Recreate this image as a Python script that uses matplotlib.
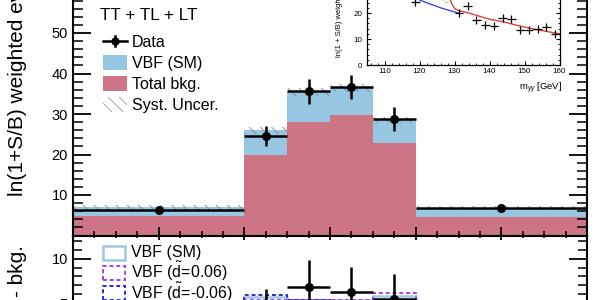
import numpy as np
import matplotlib
matplotlib.use('Agg')
import matplotlib.pyplot as plt
from matplotlib.patches import Rectangle
from matplotlib.lines import Line2D
from matplotlib.ticker import MultipleLocator

plt.rcParams['font.family'] = ['Liberation Sans', 'DejaVu Sans']
plt.rcParams['mathtext.fontset'] = 'custom'
plt.rcParams['mathtext.rm'] = 'Liberation Sans'
plt.rcParams['mathtext.it'] = 'Liberation Sans:italic'
plt.rcParams['mathtext.bf'] = 'Liberation Sans:bold'
plt.rcParams['hatch.linewidth'] = 0.6

# ---------------- data ----------------
bin_edges = [-3, -1, -0.5, 0, 0.5, 1, 3]
bkg = [4.8, 19.9, 28.0, 29.7, 22.8, 4.6]
vbf_sm = [2.2, 6.1, 7.4, 6.7, 5.7, 2.2]
syst = [0.6, 0.9, 0.9, 0.9, 0.8, 0.6]
data = [6.3, 24.6, 35.6, 36.7, 28.7, 6.9]
data_err = [0.4, 2.4, 3.1, 3.0, 3.0, 0.4]

diff_data = [1.5, 4.1, 6.85, 6.2, 5.5, 2.3]
diff_err = [0.6, 2.5, 2.95, 2.9, 2.8, 0.6]
diff_sm = [2.0, 5.65, 5.4, 5.3, 5.77, 2.1]
diff_dp = [1.6, 5.3, 5.4, 5.4, 6.15, 2.5]
diff_dm = [2.4, 5.96, 5.3, 5.2, 5.4, 1.7]

inset_mass = [106.25, 108.75, 111.25, 113.75, 116.25, 118.75, 121.25, 123.75,
              126.25, 128.75, 131.25, 133.75, 136.25, 138.75, 141.25, 143.75,
              146.25, 148.75, 151.25, 153.75, 156.25, 158.75]
inset_vals = [35, 33, 31, 29, 28, 24.2, 27, 31, 33, 28, 20.0, 22.7, 17.3, 15.4,
              15.0, 18.0, 17.6, 13.5, 13.5, 13.8, 14.7, 11.9]
inset_err = [1.6] * 22
bkg_fit_m = [105, 110, 115, 118, 120, 123, 126, 129, 131.5]
bkg_fit_v = [34, 30.5, 27.8, 26.2, 25.0, 23.5, 22.0, 20.8, 19.8]
tot_fit_m = [124, 125, 126.5, 127.8, 128.7, 129.2, 130, 131, 132.5, 134.4, 137,
             140, 144, 148, 152, 156, 160]
tot_fit_v = [40, 45, 40, 30, 25.5, 23.5, 21.8, 21.0, 20.5, 19.9, 18.8, 17.6,
             16.6, 15.2, 14.0, 13.0, 12.0]
alt_fit_m = [125.5, 126.8, 128.0]
alt_fit_v = [26.5, 25.0, 23.8]

RED = '#cd7585'
BLUE = '#98c7e4'
LBLUE = '#9cc9e0'
PURPLE = '#a83ee8'
DBLUE = '#2a2ad6'

def fx(px):
    return px / 600.0

def fy(py):
    return 1 - py / 300.0

edges = np.array(bin_edges, dtype=float)
widths = np.diff(edges)
centers = edges[:-1] + widths / 2
bkg_a = np.array(bkg)
tot = bkg_a + np.array(vbf_sm)
syst_a = np.array(syst)

fig = plt.figure(figsize=(6, 3), dpi=100)

# ---------------- main panel ----------------
ppu = 4.05
y0 = 235.5
ytop = 62
ax = fig.add_axes([fx(73), fy(y0), fx(587) - fx(73), ytop * ppu / 300])
ax.bar(edges[:-1], bkg, width=widths, align='edge', color=RED, lw=0)
ax.bar(edges[:-1], vbf_sm, bottom=bkg, width=widths, align='edge', color=BLUE, lw=0)
ax.bar(edges[:-1], 2 * syst_a, bottom=tot - syst_a, width=widths, align='edge',
       fill=False, hatch='\\\\\\', edgecolor='#888888', lw=0)
ax.errorbar(centers, data, xerr=widths / 2, yerr=data_err, fmt='o', color='k',
            ms=5.5, elinewidth=1.8, capsize=0)
ax.set_xlim(-3, 3)
ax.set_ylim(0, ytop)
ax.set_yticks([10, 20, 30, 40, 50, 60])
ax.yaxis.set_minor_locator(MultipleLocator(2))
ax.xaxis.set_major_locator(MultipleLocator(1))
ax.xaxis.set_minor_locator(MultipleLocator(0.25))
ax.tick_params(axis='y', which='major', direction='in', length=13, width=1.3,
               labelsize=10.5, pad=3.6, left=True, right=True)
ax.tick_params(axis='y', which='minor', direction='in', length=7, width=1.1,
               left=True, right=True)
ax.tick_params(axis='x', which='major', direction='in', length=6.5, width=1.3,
               labelbottom=False, top=False)
ax.tick_params(axis='x', which='minor', direction='in', length=3.6, width=1.1,
               top=False)
for s in ax.spines.values():
    s.set_linewidth(1.5)

# ---------------- lower panel ----------------
lppu = 8.9
l_top = 12.6
l_bot = -8
axl = fig.add_axes([fx(73), fy(y0 + (l_top - l_bot) * lppu), fx(587) - fx(73),
                    (l_top - l_bot) * lppu / 300])
axl.stairs(diff_sm, edges, color=LBLUE, lw=1.8)
axl.stairs(diff_dp, edges, color=PURPLE, lw=1.4, linestyle=(0, (2, 1.5)))
axl.stairs(diff_dm, edges, color=DBLUE, lw=1.4, linestyle=(0, (2, 1.5)))
axl.errorbar(centers, diff_data, xerr=widths / 2, yerr=diff_err, fmt='o',
             color='k', ms=5.5, elinewidth=1.8, capsize=0)
axl.set_xlim(-3, 3)
axl.set_ylim(l_bot, l_top)
axl.set_yticks([-5, 0, 5, 10])
axl.yaxis.set_minor_locator(MultipleLocator(1))
axl.xaxis.set_major_locator(MultipleLocator(1))
axl.xaxis.set_minor_locator(MultipleLocator(0.25))
axl.tick_params(axis='y', which='major', direction='in', length=13, width=1.3,
                labelsize=10.5, pad=3.6, left=True, right=True)
axl.tick_params(axis='y', which='minor', direction='in', length=6.5, width=1.1,
                left=True, right=True)
axl.tick_params(axis='x', which='major', direction='in', length=2.9, width=1.3,
                top=True, labelbottom=False)
axl.tick_params(axis='x', which='minor', direction='in', length=1.5, width=1.1,
                top=True)
for s in axl.spines.values():
    s.set_linewidth(1.5)

# ---------------- y labels ----------------
fig.text(fx(23), fy(196), 'ln(1+S/B) weighted events', rotation=90, ha='left',
         va='baseline', rotation_mode='anchor', fontsize=15)
fig.text(fx(23), fy(245), 'Data - bkg.', rotation=90, ha='right',
         va='baseline', rotation_mode='anchor', fontsize=15)

# ---------------- main legend ----------------
fig.text(fx(100), fy(19.5), 'TT + TL + LT', fontsize=12.3, va='baseline')
fig.add_artist(Line2D([fx(103), fx(127)], [fy(41), fy(41)], color='k', lw=1.8))
fig.add_artist(Line2D([fx(115), fx(115)], [fy(36), fy(46)], color='k', lw=1.8))
fig.add_artist(Line2D([fx(115)], [fy(41)], color='k', marker='o', ms=5))
fig.add_artist(Rectangle((fx(103), fy(70)), fx(24), 15 / 300, color=BLUE, lw=0))
fig.add_artist(Rectangle((fx(103), fy(91)), fx(24), 15 / 300, color=RED, lw=0))
fig.add_artist(Rectangle((fx(103), fy(112)), fx(24), 15 / 300, fill=False,
                         hatch='\\\\\\', edgecolor='#999999', lw=0))
for lab, yb in [('Data', 47), ('VBF (SM)', 68), ('Total bkg.', 89),
                ('Syst. Uncer.', 110)]:
    fig.text(fx(132), fy(yb), lab, fontsize=11.5, va='baseline')

# ---------------- lower legend ----------------
fig.add_artist(Rectangle((fx(103), fy(260)), fx(22), 14 / 300, fill=False,
                         edgecolor=LBLUE, lw=1.8))
fig.add_artist(Rectangle((fx(103), fy(280)), fx(22), 14 / 300, fill=False,
                         edgecolor=PURPLE, lw=1.4, linestyle=(0, (2, 1.5))))
fig.add_artist(Rectangle((fx(103), fy(300)), fx(22), 14 / 300, fill=False,
                         edgecolor=DBLUE, lw=1.4, linestyle=(0, (2, 1.5))))
for lab, yb in [('VBF (SM)', 257.5), (r'VBF ($\tilde{\mathrm{d}}$=0.06)', 278),
                (r'VBF ($\tilde{\mathrm{d}}$=-0.06)', 298.5)]:
    fig.text(fx(131), fy(yb), lab, fontsize=11.5, va='baseline')

# ---------------- inset ----------------
ippx = 3.5
ippy = 2.6
i_ytop = 40
axi = fig.add_axes([fx(367), fy(65), (160 - 105) * ippx / 600, i_ytop * ippy / 300])
axi.set_facecolor('none')
axi.plot(bkg_fit_m, bkg_fit_v, color='#2b3be0', lw=0.9)
axi.plot(alt_fit_m, alt_fit_v, color='#9ad04a', lw=0.9, linestyle=(0, (2, 1.5)))
axi.plot(tot_fit_m, tot_fit_v, color='#e0403a', lw=1.0)
axi.errorbar(inset_mass, inset_vals, xerr=1.25, yerr=inset_err, fmt='none',
             ecolor='k', elinewidth=0.9, capsize=0)
axi.set_xlim(105, 160)
axi.set_ylim(0, i_ytop)
axi.xaxis.set_major_locator(MultipleLocator(10))
axi.xaxis.set_minor_locator(MultipleLocator(2))
axi.yaxis.set_major_locator(MultipleLocator(10))
axi.yaxis.set_minor_locator(MultipleLocator(2))
axi.tick_params(which='major', direction='in', length=3, width=0.8, labelsize=5.8,
                top=True, right=True, pad=2.2)
axi.tick_params(which='minor', direction='in', length=1.6, width=0.6,
                top=True, right=True)
axi.tick_params(axis='y', which='major', pad=3.2)
for s in axi.spines.values():
    s.set_linewidth(0.9)
fig.text(fx(341), fy(57), 'ln(1 + S/B) weighted events / 2.5 GeV', rotation=90,
         ha='left', va='baseline', rotation_mode='anchor', fontsize=5.5)
fig.text(fx(562), fy(91), r'm$_{\gamma\gamma}$ [GeV]', ha='right', va='baseline',
         fontsize=6.8)

fig.savefig('out.png', dpi=100)
